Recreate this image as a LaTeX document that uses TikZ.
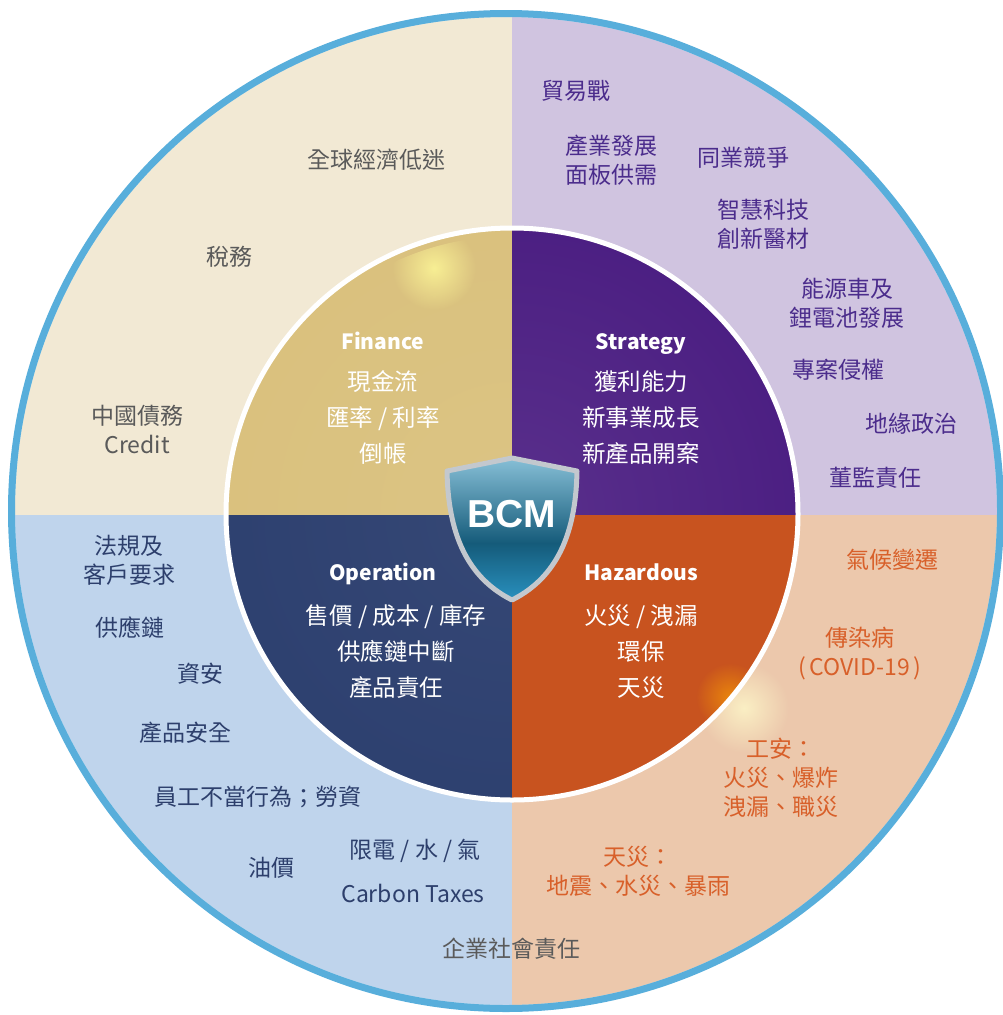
\documentclass[tikz,border=0pt]{standalone}
\usepackage{fontspec}
\setmainfont{Noto Sans CJK TC}
\newfontfamily\bcmfont{Liberation Sans}
\usepackage{xcolor}
\usetikzlibrary{fadings}

\definecolor{ringTL}{HTML}{F2E9D4}
\definecolor{ringTR}{HTML}{D0C4E0}
\definecolor{ringBL}{HTML}{BFD4EC}
\definecolor{ringBR}{HTML}{ECC8AC}
\definecolor{finC}{HTML}{D9C07C}
\definecolor{finOlive}{HTML}{BAB07C}
\definecolor{finRim}{HTML}{8E6E3C}
\definecolor{strC}{HTML}{47197F}
\definecolor{opeC}{HTML}{2B3E6E}
\definecolor{hazC}{HTML}{C8531F}
\definecolor{hazDark}{HTML}{A6451B}
\definecolor{hazRim}{HTML}{E2692A}
\definecolor{txtTL}{HTML}{5A5A5A}
\definecolor{txtTR}{HTML}{4B2C8C}
\definecolor{txtBL}{HTML}{2D3F6C}
\definecolor{txtBR}{HTML}{D8602A}
\definecolor{rimBlue}{HTML}{58AEDB}
\definecolor{shTop}{HTML}{9AD0E6}
\definecolor{shMid}{HTML}{155B7A}
\definecolor{shBot}{HTML}{2E9ED0}
\definecolor{silver}{HTML}{C3C8CE}

\pgfdeclareradialshading{ringTLsh}{\pgfpointorigin}{color(0bp)=(ringTL); color(40bp)=(ringTL); color(50bp)=(ringTL!88!black)}
\pgfdeclareradialshading{ringTRsh}{\pgfpointorigin}{color(0bp)=(ringTR); color(40bp)=(ringTR); color(50bp)=(ringTR!88!black)}
\pgfdeclareradialshading{ringBLsh}{\pgfpointorigin}{color(0bp)=(ringBL); color(40bp)=(ringBL); color(50bp)=(ringBL!88!black)}
\pgfdeclareradialshading{ringBRsh}{\pgfpointorigin}{color(0bp)=(ringBR); color(40bp)=(ringBR); color(50bp)=(ringBR!88!black)}
\pgfdeclareradialshading{finSh}{\pgfpointorigin}{color(0bp)=(finC!94!white); color(34bp)=(finC); color(42bp)=(finOlive); color(47bp)=(finC!92!black); color(49bp)=(finRim); color(50bp)=(finRim)}
\pgfdeclareradialshading{strSh}{\pgfpointorigin}{color(0bp)=(strC!90!white); color(34bp)=(strC); color(46bp)=(strC!90!black); color(50bp)=(strC!70!black)}
\pgfdeclareradialshading{opeSh}{\pgfpointorigin}{color(0bp)=(opeC!95!white); color(34bp)=(opeC); color(46bp)=(opeC!90!black); color(50bp)=(opeC!65!black)}
\pgfdeclareradialshading{hazSh}{\pgfpointorigin}{color(0bp)=(hazC); color(40bp)=(hazC); color(45bp)=(hazDark); color(48bp)=(hazC); color(50bp)=(hazRim)}
\pgfdeclareverticalshading{shieldSh}{100bp}{color(0bp)=(shBot); color(20bp)=(shBot); color(45bp)=(shMid); color(80bp)=(shTop); color(100bp)=(shTop)}
\tikzfading[name=glow, inner color=transparent!0, outer color=transparent!100]

\tikzset{
  outertext/.style={align=center, font=\fontsize{23}{29}\selectfont},
  innertext/.style={align=center, text=white, font=\fontsize{23.5}{36}\selectfont},
  titletext/.style={text=white, text height=15pt, text depth=5pt, font=\bfseries\fontsize{21}{25}\selectfont},
}

\begin{document}
\begin{tikzpicture}[x=1pt, y=-1pt]
		\useasboundingbox (0,0) rectangle (1002,1015);

		% Outer ring
		\begin{scope}
			\clip (0,0) rectangle (512,515);
			\shade[shading=ringTLsh] (506,511) ellipse [x radius=497, y radius=500];
		\end{scope}
		\begin{scope}
			\clip (512,0) rectangle (1100,515);
			\shade[shading=ringTRsh] (506,511) ellipse [x radius=497, y radius=500];
		\end{scope}
		\begin{scope}
			\clip (0,515) rectangle (512,1100);
			\shade[shading=ringBLsh] (506,511) ellipse [x radius=497, y radius=500];
		\end{scope}
		\begin{scope}
			\clip (512,515) rectangle (1100,1100);
			\shade[shading=ringBRsh] (506,511) ellipse [x radius=497, y radius=500];
		\end{scope}
		\draw[white!70!rimBlue, line width=2] (506,511) ellipse [x radius=492, y radius=495];
		\draw[rimBlue, line width=7] (506,511) ellipse [x radius=494.5, y radius=497.5];

		% Glow beside the inner circle
		\fill[white!80!yellow, opacity=0.75, path fading=glow] (744,708) circle (45);

		% Inner circle
		\begin{scope}
			\clip (0,0) rectangle (512,515);
			\shade[shading=finSh] (512,514) circle (286);
			\clip (512,514) circle (278);
			\fill[white!60!yellow, opacity=0.8, path fading=glow] (434,268) circle (42);
		\end{scope}
		\begin{scope}
			\clip (512,0) rectangle (1100,515);
			\shade[shading=strSh] (512,514) circle (286);
		\end{scope}
		\begin{scope}
			\clip (0,515) rectangle (512,1100);
			\shade[shading=opeSh] (512,514) circle (286);
		\end{scope}
		\begin{scope}
			\clip (512,515) rectangle (1100,1100);
			\shade[shading=hazSh] (512,514) circle (286);
			\clip (512,514) circle (284);
			\fill[orange!70!yellow, opacity=0.6, path fading=glow] (730,697) circle (34);
		\end{scope}
		\draw[white, line width=5] (512,514) circle (286);

		% Shield
		\shade[shading=shieldSh]
			(512,458) -- (577,471) .. controls (576,525) and (562,575) .. (512,600)
			.. controls (462,575) and (448,525) .. (447,471) -- cycle;
		\draw[silver, line width=5, line join=round]
			(512,458) -- (577,471) .. controls (576,525) and (562,575) .. (512,600)
			.. controls (462,575) and (448,525) .. (447,471) -- cycle;
		\node (bcm) at (512,514) {\bcmfont\bfseries\fontsize{39}{40}\selectfont\color{white}BCM};

		% Finance
		\node[titletext] (fin) at (383,344) {Finance};
		\node[innertext] (finItems) at (383,418) {現金流\\匯率 / 利率\\倒帳};

		% Strategy
		\node[titletext] (str) at (641,344) {Strategy};
		\node[innertext] (strItems) at (641,418) {獲利能力\\新事業成長\\新產品開案};

		% Operation
		\node[titletext] (ope) at (383,575) {Operation};
		\node[innertext] (opeItems) at (396,652) {售價 / 成本 / 庫存\\供應鏈中斷\\產品責任};

		% Hazardous
		\node[titletext] (haz) at (641,575) {Hazardous};
		\node[innertext] (hazItems) at (641,652) {火災 / 洩漏\\環保\\天災};

		% Top left risks
		\node[outertext, text=txtTL] (economy) at (376,160) {全球經濟低迷};
		\node[outertext, text=txtTL] (tax) at (229,257) {稅務};
		\node[outertext, text=txtTL] (debt) at (137,429) {中國債務\\Credit};

		% Top right risks
		\node[outertext, text=txtTR] (tradeWar) at (576,91) {貿易戰};
		\node[outertext, text=txtTR] (industry) at (611,160) {產業發展\\面板供需};
		\node[outertext, text=txtTR] (rivals) at (743,158) {同業競爭};
		\node[outertext, text=txtTR] (tech) at (763,224) {智慧科技\\創新醫材};
		\node[outertext, text=txtTR] (battery) at (847,303) {能源車及\\鋰電池發展};
		\node[outertext, text=txtTR] (patent) at (838,370) {專案侵權};
		\node[outertext, text=txtTR] (geo) at (911,424) {地緣政治};
		\node[outertext, text=txtTR] (board) at (875,478) {董監責任};

		% Bottom right risks
		\node[outertext, text=txtBR] (climate) at (892,560) {氣候變遷};
		\node[outertext, text=txtBR] (covid) at (860,654) {傳染病\\(\,COVID-19\,)};
		\node[outertext, text=txtBR] (safety) at (781,778) {工安：\\火災、爆炸\\洩漏、職災};
		\node[outertext, text=txtBR] (disaster) at (638,871) {天災：\\地震、水災、暴雨};

		% Bottom left risks
		\node[outertext, text=txtBL] (law) at (129,560) {法規及\\客戶要求};
		\node[outertext, text=txtBL] (supply) at (130,628) {供應鏈};
		\node[outertext, text=txtBL] (infosec) at (200,674) {資安};
		\node[outertext, text=txtBL] (prodSafe) at (185,733) {產品安全};
		\node[outertext, text=txtBL] (staff) at (258,797) {員工不當行為；勞資};
		\node[outertext, text=txtBL] (oil) at (271,868) {油價};
		\node[outertext, text=txtBL] (power) at (415,851) {限電 / 水 / 氣};
		\node[outertext, text=txtBL] (carbon) at (413,893) {Carbon Taxes};

		% Bottom middle
		\node[outertext, text=txtTL] (csr) at (511,949) {企業社會責任};
	\end{tikzpicture}
\end{document}
